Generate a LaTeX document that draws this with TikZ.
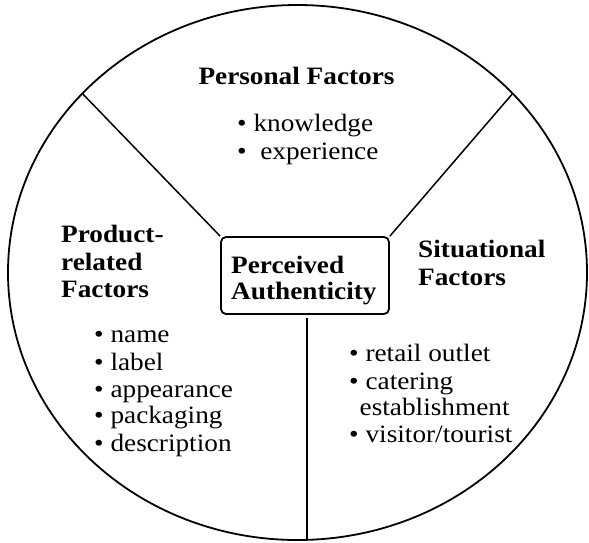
\documentclass[tikz,border=0pt]{standalone}
\usepackage{fontspec}
\setmainfont{Liberation Serif}[FakeStretch=1.09]
\usetikzlibrary{calc}
\begin{document}
\begin{tikzpicture}[x=1pt,y=1pt,
  lbl/.style={anchor=base west, inner sep=0pt, font=\fontsize{25}{27}\selectfont},
  hd/.style={lbl, font=\fontsize{25}{27}\selectfont\bfseries},
  rim/.style={line width=1.8pt},
  spoke/.style={line width=1.5pt},
  core/.style={draw, line width=1.8pt, rounded corners=5pt, minimum width=168pt, minimum height=77pt, inner sep=0pt}]
\useasboundingbox (0,0) rectangle (589,-542);
\coordinate (c) at (297.5,-272.5);
\draw[rim] (c) ellipse [x radius=289.5pt, y radius=267.5pt];
\coordinate (pl) at ($(c)+(138.0:289.5pt and 267.5pt)$);
\coordinate (pr) at ($(c)+(42.0:289.5pt and 267.5pt)$);
\coordinate (pb) at ($(c)+(-88.1:289.5pt and 267.5pt)$);

\node[core] (box) at (305,-275.5) {};
\node[hd] (a1) at (231,-273) {Perceived};
\node[hd] (a2) at (231,-299) {Authenticity};

\draw[spoke] (pl) -- (box.north west);
\draw[spoke] (pr) -- (box.north east);
\draw[spoke, shorten <=3pt] (pb |- box.south) -- (pb);

\node[hd, anchor=base] (pf) at (296.5,-84) {Personal Factors};
\node[lbl] (k) at (237,-131) {\textbullet\ knowledge};
\node[lbl] (e) at (237,-159) {\textbullet\ \ experience};

\node[hd] (p1) at (61,-242) {Product-};
\node[hd] (p2) at (61,-270) {related};
\node[hd] (p3) at (61,-297) {Factors};

\node[lbl] (l1) at (94,-342) {\textbullet\ name};
\node[lbl] (l2) at (94,-370) {\textbullet\ label};
\node[lbl] (l3) at (94,-397.5) {\textbullet\ appearance};
\node[lbl] (l4) at (94,-423) {\textbullet\ packaging};
\node[lbl] (l5) at (94,-451) {\textbullet\ description};

\node[hd] (s1) at (418,-257.5) {Situational};
\node[hd] (s2) at (418,-285) {Factors};

\node[lbl] (r1) at (349,-361) {\textbullet\ retail outlet};
\node[lbl] (r2) at (349,-389) {\textbullet\ catering};
\node[lbl] (r3) at (359.5,-415) {establishment};
\node[lbl] (r4) at (349,-442.5) {\textbullet\ visitor/tourist};
\end{tikzpicture}
\end{document}
